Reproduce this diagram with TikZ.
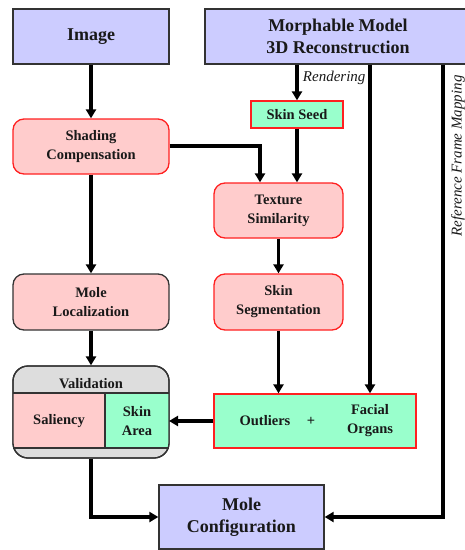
\documentclass[tikz,border=0pt]{standalone}
\usepackage{fontspec}
\setmainfont{LiberationSerif}[Extension=.ttf, UprightFont=*-Regular, BoldFont=*-Bold, ItalicFont=*-Italic, BoldItalicFont=*-BoldItalic]
\usetikzlibrary{arrows.meta}
\definecolor{boxblue}{HTML}{CCCCFF}
\definecolor{boxpink}{HTML}{FFCCCC}
\definecolor{boxgreen}{HTML}{99FFCC}
\definecolor{boxgray}{HTML}{DDDDDD}
\definecolor{boxred}{HTML}{FF2020}
\definecolor{boxdark}{HTML}{333333}
\begin{document}
\begin{tikzpicture}[x=1pt,y=-1pt,
  bigtext/.style={font=\fontsize{18}{22}\selectfont\bfseries, align=center, text=black!90},
  smalltext/.style={font=\fontsize{14.5}{19}\selectfont\bfseries, align=center, text=black!90},
  bluebox/.style={bigtext, draw=boxdark, fill=boxblue, line width=1.3pt, inner sep=0pt},
  pinkbox/.style={smalltext, draw=boxred, fill=boxpink, line width=1.3pt, rounded corners=11pt, inner sep=0pt},
  greenbox/.style={smalltext, draw=boxred, fill=boxgreen, line width=1.3pt, inner sep=0pt},
  conn/.style={line width=3.2pt, -{Triangle[width=10pt,length=9pt]}},
  lbl/.style={font=\fontsize{15}{18}\selectfont\itshape, text=black!90}
]
\useasboundingbox (0,0) rectangle (465,550);
\clip (0,0) rectangle (465,550);

% top boxes
\node[bluebox, minimum width=156pt, minimum height=55pt] (image) at (91,36.5) {Image};
\node[bluebox, minimum width=266pt, minimum height=55pt] (morph) at (338,36.5) {Morphable Model\\3D Reconstruction};

% left column
\node[pinkbox, minimum width=156pt, minimum height=55pt] (shading) at (91,146.5) {Shading\\Compensation};
\node[pinkbox, draw=boxdark, minimum width=156pt, minimum height=56pt] (moleloc) at (91,302) {Mole\\Localization};

% middle column
\node[greenbox, minimum width=92pt, minimum height=27pt] (seed) at (297,114.5) {Skin Seed};
\node[pinkbox, minimum width=129pt, minimum height=55pt] (texture) at (278.5,210.5) {Texture\\Similarity};
\node[pinkbox, minimum width=129pt, minimum height=56pt] (skinseg) at (278.5,302) {Skin\\Segmentation};

% outliers box
\node[greenbox, minimum width=202pt, minimum height=54pt] (outliers) at (315,421) {};
\node[smalltext] (outtxt) at (265,421) {Outliers};
\node[smalltext] (plus) at (311,421) {+};
\node[smalltext] (facial) at (370,421) {Facial\\Organs};

% validation box
\node[draw=boxdark, fill=boxgray, line width=1.3pt, rounded corners=15pt, minimum width=156pt, minimum height=92pt, inner sep=0pt] (valid) at (91,412) {};
\fill[boxpink] (13,393) rectangle (105,448);
\fill[boxgreen] (105,393) rectangle (169,448);
\draw[boxdark, line width=1.3pt] (13,393) -- (169,393) (13,448) -- (169,448) (105,393) -- (105,448);
\draw[boxdark, line width=1.3pt, rounded corners=15pt] (13,366) rectangle (169,458);
\node[smalltext] (vtitle) at (91,384) {Validation};
\node[smalltext] (saliency) at (59,421) {Saliency};
\node[smalltext] (skinarea) at (137,421) {Skin\\Area};
\coordinate (skinareaE) at (169,421);

% bottom
\node[bluebox, minimum width=165pt, minimum height=64pt] (moleconf) at (241.5,517) {Mole\\Configuration};

% connectors
\draw[conn] (image.south) -- (shading.north);
\draw[conn] (shading.south) -- (moleloc.north);
\draw[conn] (moleloc.south) -- (valid.north);
\draw[conn] (valid.south) |- (moleconf.west);

\draw[conn] (morph.south -| seed.north) -- node[lbl, right=1pt, pos=0.38] (rend) {Rendering} (seed.north);
\draw[conn] (morph.south -| 370,0) -- (outliers.north -| 370,0);
\draw[conn] (morph.south -| 443,0) -- (443,517) -- (moleconf.east);
\node[lbl, rotate=90] (refmap) at (458,156) {Reference Frame Mapping};

\draw[conn] (seed.south) -- (texture.north -| seed.south);
\draw[conn] (shading.east |- 0,146) -| (texture.north -| 260,0);
\draw[conn] (texture.south) -- (skinseg.north);
\draw[conn] (skinseg.south) -- (outliers.north -| skinseg.south);
\draw[conn] (outliers.west) -- (skinareaE);
\end{tikzpicture}
\end{document}
